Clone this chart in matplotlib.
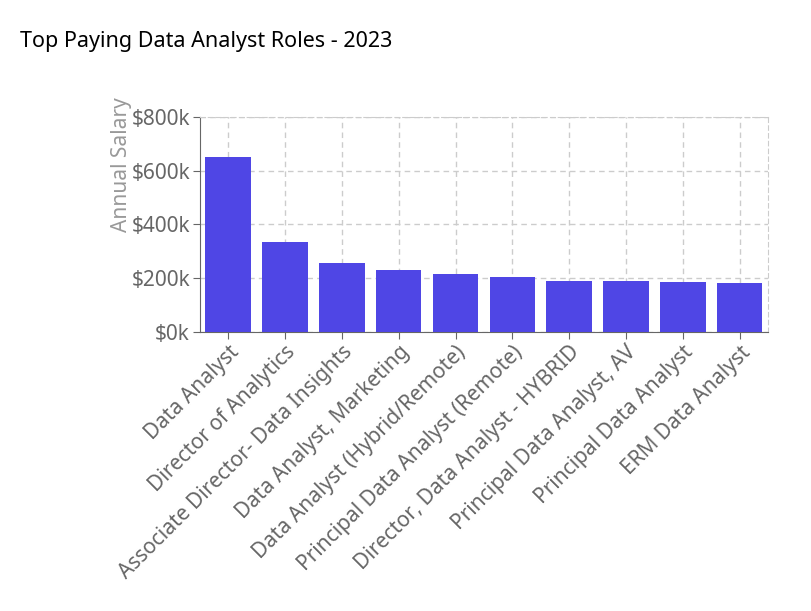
import matplotlib.pyplot as plt
from matplotlib.ticker import FuncFormatter

plt.rcParams["font.family"] = ["Noto Sans", "DejaVu Sans"]

roles = [
    "Data Analyst",
    "Director of Analytics",
    "Associate Director- Data Insights",
    "Data Analyst, Marketing",
    "Data Analyst (Hybrid/Remote)",
    "Principal Data Analyst (Remote)",
    "Director, Data Analyst - HYBRID",
    "Principal Data Analyst, AV",
    "Principal Data Analyst",
    "ERM Data Analyst",
]
salaries = [650000, 336500, 255830, 232423, 217000, 205000, 189309, 189000, 186000, 184000]

BAR_COLOUR = "#4f46e5"
GREY = "#666666"

fig = plt.figure(figsize=(8.12, 6.11), dpi=100)
ax = fig.add_axes([0.246, 0.4566, 0.700, 0.352])
x = range(len(roles))
ax.bar(x, salaries, width=0.8, color=BAR_COLOUR, zorder=3)
ax.set_xlim(-0.5, len(roles) - 0.5)
ax.set_ylim(0, 800000)
ax.set_yticks([0, 200000, 400000, 600000, 800000])
ax.yaxis.set_major_formatter(FuncFormatter(lambda v, _: f"${int(v / 1000)}k"))
ax.set_xticks(list(x))
ax.set_xticklabels(roles, rotation=45, ha="right", rotation_mode="anchor")
ax.tick_params(axis="both", colors=GREY, labelsize=15, length=5, pad=2)
ax.grid(True, linestyle=(0, (4, 3)), color="#cccccc", linewidth=1, zorder=0)
for side in ["top", "right"]:
    ax.spines[side].set_linestyle((0, (4, 3)))
    ax.spines[side].set_color("#cccccc")
for side in ["left", "bottom"]:
    ax.spines[side].set_color(GREY)
ax.set_ylabel("Annual Salary", color="#999999", fontsize=15)
ax.yaxis.set_label_coords(-0.12, 0.78)

fig.text(20 / 812, 1 - 42 / 611, "Top Paying Data Analyst Roles - 2023",
         fontsize=15.5, fontweight="semibold", va="center", ha="left")

fig.savefig("out.png", dpi=100)
